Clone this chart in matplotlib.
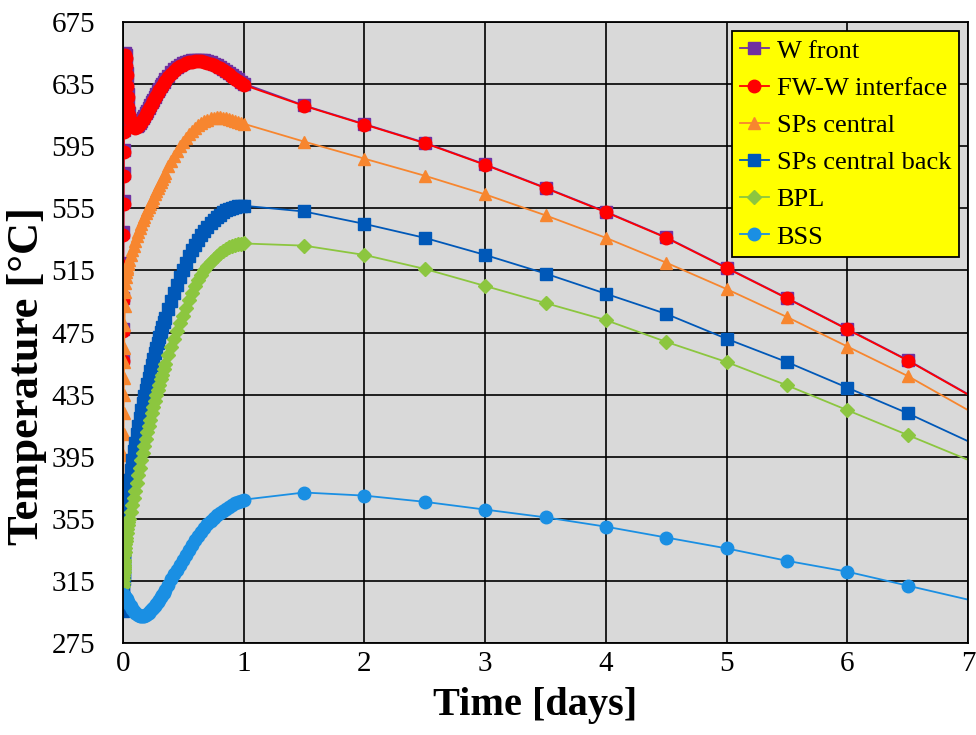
import matplotlib
matplotlib.use("Agg")
import matplotlib.pyplot as plt

# time axis: dense output during the first day, then every half day
t_day1 = [0, 0.001, 0.002, 0.003, 0.004, 0.005, 0.006, 0.007, 0.008, 0.009, 0.01,
          0.0125, 0.015, 0.0175, 0.02, 0.0225, 0.025, 0.03, 0.035, 0.04, 0.045, 0.05,
          0.075, 0.1, 0.125, 0.15, 0.175, 0.2, 0.225, 0.25, 0.275, 0.3, 0.325, 0.35,
          0.375, 0.4, 0.425, 0.45, 0.475, 0.5, 0.525, 0.55, 0.575, 0.6, 0.625, 0.65,
          0.675, 0.7, 0.725, 0.75, 0.775, 0.8, 0.825, 0.85, 0.875, 0.9, 0.925, 0.95,
          0.975, 1.0]
# extra output steps in the steep part of the first day
t_mid = [0.0625, 0.0875, 0.1125, 0.1375, 0.1625, 0.1875, 0.2125, 0.2375, 0.2625,
         0.2875, 0.3125, 0.3375]
t_late = [1.5, 2.0, 2.5, 3.0, 3.5, 4.0, 4.5, 5.0, 5.5, 6.0, 6.5, 7.0]

w_front_day1 = [458.5, 477.5, 497.5, 519.5, 539.5, 559.5, 577.5, 592.5, 605.5, 617.5, 628.5,
                639.5, 647.5, 652.5, 655, 653.5, 648.5, 642.5, 635.5, 628.5, 621.5, 616.5,
                609.5, 608, 609, 611.5, 614.5, 618, 621.5, 625, 628.5, 632, 635, 638,
                640.5, 642.8, 644.7, 646.3, 647.6, 648.6, 649.4, 650, 650.4, 650.6, 650.7,
                650.6, 650.3, 649.8, 649.1, 648.3, 647.3, 646.2, 645, 643.7, 642.3, 640.9,
                639.5, 638.1, 636.7, 635.4]
w_front_mid = [612, 608.6, 608.3, 610.1, 613, 616.2, 619.8, 623.3, 626.8, 630.3, 633.5, 636.5]
w_front_late = [621.3, 609.3, 597.3, 583.3, 568.3, 552.8, 536.3, 516.8, 497.3, 477.3, 457.3, 435.3]

fw_w_day1 = [457, 476, 496, 518, 538, 558, 576, 591, 604, 616, 627,
             638, 646, 651, 653.5, 652, 647, 641, 634, 627, 620, 615,
             608.5, 607, 608, 610.5, 613.5, 617, 620.5, 624, 627.5, 631, 634, 637,
             639.5, 641.8, 643.7, 645.3, 646.6, 647.6, 648.4, 649, 649.4, 649.6, 649.7,
             649.6, 649.3, 648.8, 648.1, 647.3, 646.3, 645.2, 644, 642.7, 641.3, 639.9,
             638.5, 637.1, 635.7, 634.5]
fw_w_mid = [611, 607.5, 607.3, 609.1, 612, 615.2, 618.8, 622.3, 625.8, 629.3, 632.5, 635.5]
fw_w_late = [621, 609, 597, 583, 568, 552.5, 536, 516.5, 497, 477, 457, 435]

sps_central_day1 = [330, 348, 365, 381, 396, 410, 423, 435, 446, 456, 465,
                    480, 492, 501, 507, 511, 514, 516, 517.5, 519, 520, 521.5,
                    528, 534, 540, 545, 549.5, 554, 558, 562, 566, 570, 574, 578,
                    582, 585.5, 589, 592, 595, 598, 600.5, 603, 605, 607, 608.5,
                    610, 611.2, 612.2, 613, 613.5, 613.7, 613.6, 613.3, 612.9, 612.4, 611.8,
                    611.2, 610.6, 610, 609.5]
sps_central_mid = [524.8, 531, 537, 542.6, 547.3, 551.8, 556, 560, 564, 568, 572, 576]
sps_central_late = [598, 587, 576, 564, 550.5, 536, 520, 503, 485, 466, 447, 425]

sps_back_day1 = [296, 300, 304, 308, 312, 316, 320, 324, 328, 331, 334,
                 340, 345, 350, 354, 358, 361, 366, 370, 373.5, 377, 380,
                 393, 404, 415, 425, 434, 442, 450, 458, 465, 472, 478.5, 484.5,
                 490, 495.5, 500.5, 505.5, 510.5, 515.5, 520, 524.2, 528, 531.5, 534.7,
                 537.7, 540.5, 543, 545.4, 547.5, 549.4, 551, 552.5, 553.7, 554.7, 555.5,
                 556, 556.4, 556.6, 556.7]
sps_back_mid = [386.7, 398.6, 409.6, 420.1, 429.6, 438, 446, 454, 461.6, 468.5, 475.3, 481.5]
sps_back_late = [553, 545, 536, 525, 513, 500, 487, 471, 456, 439.5, 423, 405]

bpl_day1 = [312, 314, 316, 318, 319.5, 321, 322.5, 324, 325.5, 327, 328.5,
            331.5, 334, 336.5, 339, 341, 343, 346, 348.5, 351, 353, 355,
            364, 373, 383, 393, 402, 411, 419, 427, 434.5, 441.5, 448, 454.5,
            460.5, 466, 471, 476, 481, 486, 491, 496, 500.5, 504.8, 508.7,
            512.2, 515.3, 518, 520.5, 522.7, 524.6, 526.3, 527.8, 529, 530, 530.8,
            531.4, 531.9, 532.2, 532.4]
bpl_mid = [359.4, 368.5, 378, 388, 397.6, 406.5, 415, 423, 430.8, 438, 444.8, 451.3]
bpl_late = [531, 525, 516, 505, 494, 483, 469, 456, 441, 425, 409, 393]

bss_day1 = [306, 306, 306, 305.9, 305.8, 305.7, 305.6, 305.5, 305.4, 305.3, 305.2,
            305, 304.8, 304.6, 304.3, 304, 303.7, 303.1, 302.4, 301.7, 301, 300.3,
            297, 294.5, 292.8, 292.2, 292.6, 293.8, 295.6, 297.8, 300.3, 303, 306, 309.2,
            312.6, 316, 319.2, 322.4, 325.6, 328.8, 332, 335.2, 338.4, 341.4, 344.2,
            346.8, 349.2, 351.5, 353.6, 355.5, 357.3, 358.9, 360.4, 361.7, 362.9, 364,
            365, 365.9, 366.7, 367.4]
bss_mid = [298.6, 295.7, 293.5, 292.4, 292.3, 293.1, 294.6, 296.7, 299, 301.6, 304.5, 307.6]
bss_late = [372, 370, 366, 361, 356, 350, 343, 336, 328, 321, 312, 303]

labels = ["W front", "FW-W interface", "SPs central", "SPs central back", "BPL", "BSS"]
colors = ["#7030A0", "#FF0000", "#F7862F", "#0058B8", "#8CC63F", "#1A8FE3"]
markers = ["s", "o", "^", "s", "D", "o"]
msizes = [9, 9, 8, 9, 7, 9]

raw = [(w_front_day1, w_front_mid, w_front_late),
       (fw_w_day1, fw_w_mid, fw_w_late),
       (sps_central_day1, sps_central_mid, sps_central_late),
       (sps_back_day1, sps_back_mid, sps_back_late),
       (bpl_day1, bpl_mid, bpl_late),
       (bss_day1, bss_mid, bss_late)]


def merged(day1, mid, late):
    pairs = sorted(zip(t_day1 + t_mid, day1 + mid))
    return [p[0] for p in pairs] + t_late, [p[1] for p in pairs] + late


plt.rcParams["font.family"] = ["Liberation Serif", "DejaVu Serif"]

fig = plt.figure(figsize=(9.76, 7.35), dpi=100)
ax = fig.add_axes([0.126, 0.125, 0.866, 0.845])
ax.set_facecolor("#D9D9D9")

for (d1, md, lt), lab, c, m, ms in zip(raw, labels, colors, markers, msizes):
    t, y = merged(d1, md, lt)
    ax.plot(t, y, color=c, lw=1.3, marker=m, ms=ms, mfc=c, mec=c,
            markevery=list(range(len(t) - 1)), label=lab)

ax.set_xlim(0, 7)
ax.set_ylim(275, 675)
ax.set_xticks(range(0, 8))
ax.set_yticks(range(275, 676, 40))
ax.grid(True, color="black", lw=1.2)
ax.set_axisbelow(True)
for s in ax.spines.values():
    s.set_color("black")
    s.set_linewidth(1.3)
ax.tick_params(length=0, labelsize=21)
ax.tick_params(axis="y", pad=20)
ax.tick_params(axis="x", pad=6)
ax.set_xlabel("Time [days]", fontsize=29, fontweight="bold")
ax.set_ylabel("Temperature [°C]", fontsize=32, fontweight="bold")
ax.xaxis.set_label_coords(0.488, -0.07)
ax.yaxis.set_label_coords(-0.09, 0.43)

leg = ax.legend(loc="upper right", fontsize=19, frameon=True, fancybox=False,
                facecolor="#FFFF00", edgecolor="black", framealpha=1,
                handlelength=1.1, handletextpad=0.3, labelspacing=0.52,
                borderaxespad=0.35, borderpad=0.3)
leg.get_frame().set_linewidth(1.3)

fig.savefig("out.png", dpi=100)
